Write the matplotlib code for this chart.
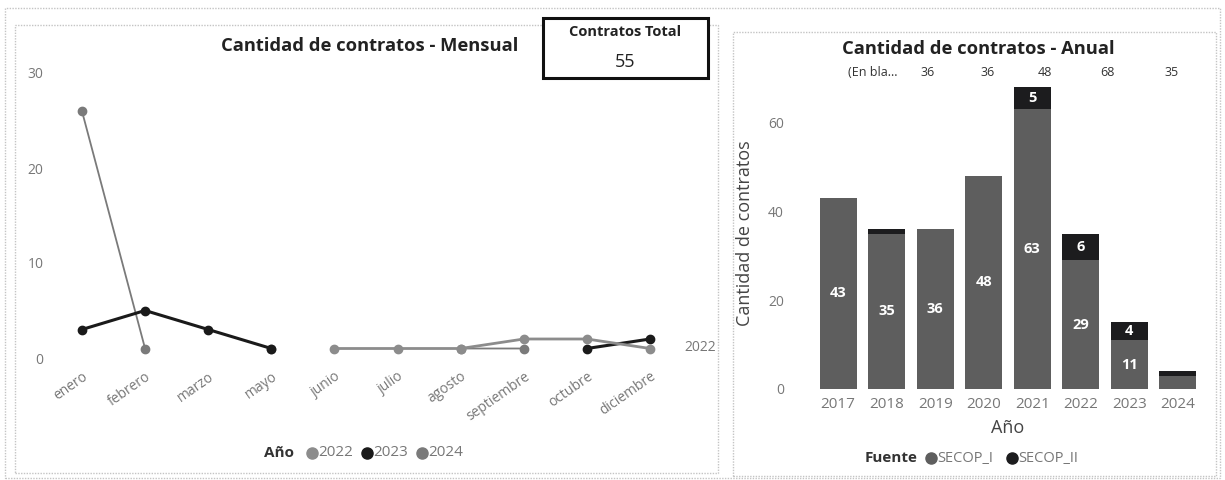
import numpy as np
import matplotlib.pyplot as plt
from matplotlib.patches import Rectangle
from matplotlib.lines import Line2D

plt.rcParams['font.family'] = ['Open Sans', 'DejaVu Sans']

# monthly data
meses = ['enero', 'febrero', 'marzo', 'mayo', 'junio', 'julio', 'agosto',
         'septiembre', 'octubre', 'diciembre']
y2022 = [np.nan, np.nan, np.nan, np.nan, 1, 1, 1, 2, 2, 1]
y2023 = [3, 5, 3, 1, np.nan, np.nan, np.nan, np.nan, 1, 2]
y2024 = [26, 1, np.nan, 1, np.nan, np.nan, 1, 1, np.nan, np.nan]

# yearly data
anios = ['2017', '2018', '2019', '2020', '2021', '2022', '2023', '2024']
secop_1 = [43, 35, 36, 48, 63, 29, 11, 3]
secop_2 = [0, 1, 0, 0, 5, 6, 4, 1]
top_labels = ['(En bla...', '36', '36', '48', '68', '35']

c2022 = '#8c8c8c'
c2023 = '#1a1a1a'
c2024 = '#7a7a7a'
c_s1 = '#5e5e5e'
c_s2 = '#1c1c1e'
tick_c = '#777777'

W, H = 1225, 480
fig = plt.figure(figsize=(12.25, 4.8), dpi=100)
fig.patch.set_facecolor('white')

def px(x0, y0, x1, y1):
    return [x0 / W, 1 - y1 / H, (x1 - x0) / W, (y1 - y0) / H]

def fpos(x, y):
    return x / W, 1 - y / H

# frame and panel borders (dotted, like the scanned report)
for (x0, y0, x1, y1) in [(5, 8, 1220, 478), (15, 25, 718, 473), (733, 32, 1216, 476)]:
    fig.patches.append(Rectangle((x0 / W, 1 - y1 / H), (x1 - x0) / W, (y1 - y0) / H,
                                 transform=fig.transFigure, fill=False,
                                 edgecolor='#c4c4c4', lw=1.0, ls=(0, (1, 1))))

# ---------- left: monthly line chart ----------
ax = fig.add_axes(px(63, 73, 669, 358))
xs = np.arange(len(meses))
ax.plot(xs, y2024, color=c2024, lw=1.3, marker='o', ms=6, clip_on=False, zorder=3)
ax.plot(xs, y2023, color=c2023, lw=2.2, marker='o', ms=6, clip_on=False, zorder=4)
ax.plot(xs, y2022, color=c2022, lw=2.0, marker='o', ms=6, clip_on=False, zorder=5)
ax.set_ylim(0, 30)
ax.set_xlim(-0.3, 9.3)
ax.set_yticks([0, 10, 20, 30])
ax.set_xticks(xs)
ax.set_xticklabels(meses, rotation=35, ha='right', rotation_mode='anchor',
                   fontsize=10, color=tick_c)
ax.tick_params(axis='y', labelsize=10, labelcolor=tick_c, length=0, pad=14)
ax.tick_params(axis='x', length=0, pad=8)
for s in ax.spines.values():
    s.set_visible(False)
ax.text(9.55, 1.1, '2022', fontsize=10, color=tick_c, va='center')
fig.text(*fpos(370, 46), 'Cantidad de contratos - Mensual', fontsize=13.2,
         fontweight='bold', color='#222222', ha='center', va='center')

# legend
fig.text(*fpos(264, 453), 'Año', fontsize=11, fontweight='bold', color='#333333', va='center')
lx = 312
for col, lab in [(c2022, '2022'), (c2023, '2023'), (c2024, '2024')]:
    fig.lines.append(Line2D([lx / W], [1 - 453 / H], marker='o', ms=8, color=col,
                            transform=fig.transFigure))
    fig.text(*fpos(lx + 6, 453), lab, fontsize=11, color=tick_c, va='center')
    lx += 55

# Contratos Total card
fig.patches.append(Rectangle((543 / W, 1 - 78 / H), 165 / W, 60 / H,
                             transform=fig.transFigure, fill=True, facecolor='white',
                             edgecolor='#111111', lw=2.2, zorder=5))
fig.text(*fpos(625, 32), 'Contratos Total', ha='center', va='center',
         fontsize=10.5, fontweight='bold', color='#222222', zorder=6)
fig.text(*fpos(625, 62), '55', ha='center', va='center',
         fontsize=13, color='#222222', zorder=6)

# ---------- right: yearly stacked bars ----------
bx = fig.add_axes(px(809, 78, 1207, 389))
bxs = np.arange(len(anios))
bx.bar(bxs, secop_1, width=0.76, color=c_s1, zorder=2)
bx.bar(bxs, secop_2, width=0.76, bottom=secop_1, color=c_s2, zorder=2)
for i in range(len(anios)):
    if secop_1[i] >= 8:
        bx.text(bxs[i], secop_1[i] / 2, str(secop_1[i]), ha='center', va='center',
                color='white', fontsize=10.5, fontweight='bold')
    if secop_2[i] >= 3:
        bx.text(bxs[i], secop_1[i] + secop_2[i] / 2, str(secop_2[i]), ha='center',
                va='center', color='white', fontsize=10.5, fontweight='bold')
bx.set_ylim(0, 70)
bx.set_xlim(-0.6, 7.6)
bx.set_yticks([0, 20, 40, 60])
bx.set_xticks(bxs)
bx.set_xticklabels(anios, fontsize=11, color=tick_c)
bx.tick_params(axis='y', labelsize=10, labelcolor=tick_c, length=0, pad=18)
bx.tick_params(axis='x', length=0, pad=6)
for s in bx.spines.values():
    s.set_visible(False)
bx.set_xlabel('Año', fontsize=13, color='#444444', labelpad=5)
bx.set_ylabel('Cantidad de contratos', fontsize=13, color='#444444', labelpad=10)
fig.text(*fpos(978, 49), 'Cantidad de contratos - Anual', fontsize=13.2,
         fontweight='bold', color='#222222', ha='center', va='center')

# row of labels above the bars
top_x = [873, 928, 988, 1045, 1107, 1172]
for x, t in zip(top_x, top_labels):
    fig.text(*fpos(x, 72), t, ha='center', va='center', fontsize=9, color='#333333')

# legend
fig.text(*fpos(865, 458), 'Fuente', fontsize=11, fontweight='bold', color='#333333', va='center')
lx = 931
for col, lab in [(c_s1, 'SECOP_I'), (c_s2, 'SECOP_II')]:
    fig.lines.append(Line2D([lx / W], [1 - 458 / H], marker='o', ms=8, color=col,
                            transform=fig.transFigure))
    fig.text(*fpos(lx + 6, 458), lab, fontsize=10.5, color=tick_c, va='center')
    lx += 81

fig.savefig('out.png', dpi=100, facecolor='white')
